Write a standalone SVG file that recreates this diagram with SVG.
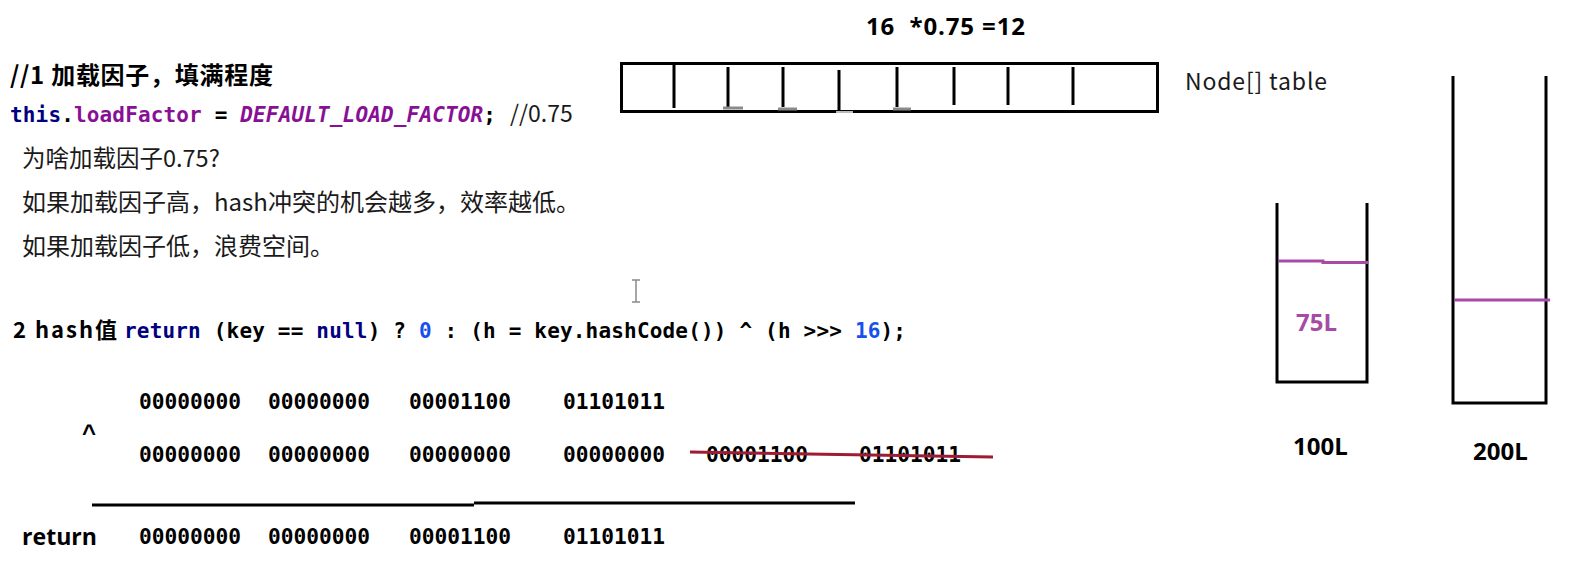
<svg xmlns="http://www.w3.org/2000/svg" width="1570" height="563" viewBox="0 0 1570 563">
<style>
.cn{font-family:"Noto Sans CJK SC","Noto Sans",sans-serif;fill:#1a1a1a;}
.b{font-weight:bold;fill:#000;}
.lat{font-family:"Open Sans","Noto Sans CJK SC",sans-serif;font-weight:bold;fill:#000;}
.mono{font-family:"DejaVu Sans Mono",monospace;font-weight:bold;font-size:21px;fill:#000;}
.kw{fill:#000080;}
.fld{fill:#871094;}
.it{font-style:italic;}
.num{fill:#1750eb;}
.bin{font-family:"DejaVu Sans Mono",monospace;font-weight:bold;font-size:22px;fill:#000;}
.wall{stroke:#000;stroke-width:3;fill:none;}
.div{stroke:#000;stroke-width:3;}
.lvl{stroke:#a64ca6;stroke-width:3;fill:none;}
.ghost{stroke:#8a8a8a;stroke-width:3;}
.pre{white-space:pre;}
</style>
<rect width="1570" height="563" fill="#fff"/>

<g id="calc">
<text class="lat pre" x="866" y="35" font-size="24" textLength="159" lengthAdjust="spacing">16  *0.75 =12</text>
</g>

<g id="title">
<text class="cn b" x="10" y="84" font-size="24" textLength="263" lengthAdjust="spacing">//1 加载因子，填满程度</text>
</g>

<g id="code-loadfactor">
<text class="mono" x="10" y="122" textLength="486" lengthAdjust="spacing"><tspan class="kw">this</tspan>.<tspan class="fld">loadFactor</tspan> = <tspan class="fld it">DEFAULT_LOAD_FACTOR</tspan>;</text>
<text class="cn" x="510" y="122" font-size="23">//0.75</text>
</g>

<g id="notes">
<text class="cn" x="22" y="167" font-size="23.5">为啥加载因子0.75?</text>
<text class="cn" x="22" y="211" font-size="24">如果加载因子高，hash冲突的机会越多，效率越低。</text>
<text class="cn" x="22" y="255" font-size="24">如果加载因子低，浪费空间。</text>
</g>

<g id="cursor">
<line x1="636" y1="280" x2="636" y2="302" stroke="#8a8a8a" stroke-width="1.5"/>
<line x1="632" y1="280" x2="640" y2="280" stroke="#8a8a8a" stroke-width="1.5"/>
<line x1="632" y1="302" x2="640" y2="302" stroke="#8a8a8a" stroke-width="1.5"/>
</g>

<g id="hash-line">
<text class="cn b" x="13" y="338" font-size="22" textLength="104" lengthAdjust="spacing">2 hash值</text>
<text class="mono" x="124" y="338" textLength="782" lengthAdjust="spacing"><tspan class="kw">return</tspan> (key == <tspan class="kw">null</tspan>) ? <tspan class="num">0</tspan> : (h = key.hashCode()) ^ (h &gt;&gt;&gt; <tspan class="num">16</tspan>);</text>
</g>

<g id="binary-h">
<text class="bin" x="139" y="409" textLength="102" lengthAdjust="spacingAndGlyphs">00000000</text>
<text class="bin" x="268" y="409" textLength="102" lengthAdjust="spacingAndGlyphs">00000000</text>
<text class="bin" x="409" y="409" textLength="102" lengthAdjust="spacingAndGlyphs">00001100</text>
<text class="bin" x="563" y="409" textLength="102" lengthAdjust="spacingAndGlyphs">01101011</text>
</g>

<g id="xor-op">
<text x="82" y="441" font-family="Liberation Sans, Arial, sans-serif" font-weight="bold" font-size="24" fill="#000">^</text>
</g>

<g id="binary-shift">
<text class="bin" x="139" y="462" textLength="102" lengthAdjust="spacingAndGlyphs">00000000</text>
<text class="bin" x="268" y="462" textLength="102" lengthAdjust="spacingAndGlyphs">00000000</text>
<text class="bin" x="409" y="462" textLength="102" lengthAdjust="spacingAndGlyphs">00000000</text>
<text class="bin" x="563" y="462" textLength="102" lengthAdjust="spacingAndGlyphs">00000000</text>
<text class="bin" x="706" y="462" textLength="102" lengthAdjust="spacingAndGlyphs">00001100</text>
<text class="bin" x="859" y="462" textLength="102" lengthAdjust="spacingAndGlyphs">01101011</text>
</g>

<g id="binary-result">
<text class="lat" x="22" y="545" font-size="24" textLength="75" lengthAdjust="spacingAndGlyphs">return</text>
<text class="bin" x="139" y="544" textLength="102" lengthAdjust="spacingAndGlyphs">00000000</text>
<text class="bin" x="268" y="544" textLength="102" lengthAdjust="spacingAndGlyphs">00000000</text>
<text class="bin" x="409" y="544" textLength="102" lengthAdjust="spacingAndGlyphs">00001100</text>
<text class="bin" x="563" y="544" textLength="102" lengthAdjust="spacingAndGlyphs">01101011</text>
</g>

<g id="connectors">
<line x1="690" y1="452" x2="993" y2="457" stroke="#9e1b32" stroke-width="3"/>
<line x1="92" y1="505" x2="474" y2="505" stroke="#000" stroke-width="3"/>
<line x1="474" y1="503" x2="855" y2="503" stroke="#000" stroke-width="3"/>
</g>

<g id="node-table">
<rect class="wall" x="621.5" y="63.5" width="536" height="48"/>
<line class="div" x1="674" y1="64" x2="674" y2="108"/>
<line class="div" x1="728" y1="67" x2="728" y2="107"/>
<line class="div" x1="783" y1="67" x2="783" y2="107"/>
<line class="div" x1="839" y1="70" x2="839" y2="110"/>
<line class="div" x1="897" y1="67" x2="897" y2="107"/>
<line class="div" x1="954" y1="67" x2="954" y2="105"/>
<line class="div" x1="1008" y1="67" x2="1008" y2="105"/>
<line class="div" x1="1073" y1="67" x2="1073" y2="105"/>
<line class="ghost" x1="723" y1="108" x2="743" y2="108"/>
<line class="ghost" x1="778" y1="109" x2="797" y2="109"/>
<line class="ghost" x1="893" y1="109" x2="911" y2="109"/>
<line x1="836" y1="112" x2="853" y2="112" stroke="#bbb" stroke-width="2"/>
<text class="cn" x="1185" y="90" font-size="23" textLength="142" lengthAdjust="spacing">Node[] table</text>
</g>

<g id="cup-100">
<polyline class="wall" points="1277,203 1277,382 1367,382 1367,203"/>
<polyline class="lvl" points="1278,261 1323,261 1323,262.5 1368,262.5"/>
<text class="lat" x="1296" y="331" font-size="24" style="fill:#a64ca6">75L</text>
<text class="lat" x="1293" y="455" font-size="24">100L</text>
</g>

<g id="cup-200">
<polyline class="wall" points="1453,76 1453,403 1546,403 1546,76"/>
<line class="lvl" x1="1454" y1="300" x2="1550" y2="300"/>
<text class="lat" x="1473" y="460" font-size="24">200L</text>
</g>
</svg>
